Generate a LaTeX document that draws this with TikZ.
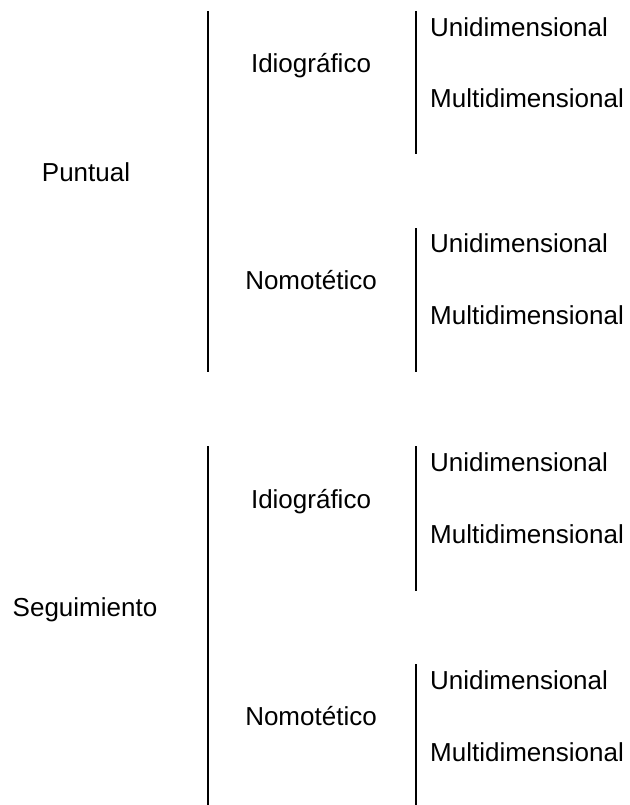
\documentclass[tikz,border=0pt]{standalone}
\usepackage{fontspec}
\setmainfont{Liberation Sans}
\usetikzlibrary{positioning}
\tikzstyle{term} = [inner sep=0pt, font=\fontsize{26}{31}\selectfont,
                    text height=19pt, text depth=0pt]
\tikzstyle{leaf} = [term, anchor=west]
\tikzstyle{bar} = [line width=2pt]

\begin{document}
\begin{tikzpicture}[x=1pt, y=-1pt]
\useasboundingbox (0,0) rectangle (629,805);
% primer bloque
\node [term] at (86,172) (puntual) {Puntual};
\node [term] at (311,63) (idio_p) {Idiográfico};
\node [term] at (311,280) (nomo_p) {Nomotético};
\node [leaf] at (430,27) (uni_ip) {Unidimensional};
\node [leaf] at (430,98) (multi_ip) {Multidimensional};
\node [leaf] at (430,243) (uni_np) {Unidimensional};
\node [leaf] at (430,315) (multi_np) {Multidimensional};
\coordinate (puntual_top) at (208,11);
\coordinate (puntual_bot) at (208,372);
\coordinate (idio_p_top) at (416,11);
\coordinate (idio_p_bot) at (416,154);
\coordinate (nomo_p_top) at (416,228);
\coordinate (nomo_p_bot) at (416,372);
\draw [bar] (puntual_top) -- (puntual_bot);
\draw [bar] (idio_p_top) -- (idio_p_bot);
\draw [bar] (nomo_p_top) -- (nomo_p_bot);
% segundo bloque
\node [term] at (85,607) (seguimiento) {Seguimiento};
\node [term] at (311,499) (idio_s) {Idiográfico};
\node [term] at (311,716) (nomo_s) {Nomotético};
\node [leaf] at (430,462) (uni_is) {Unidimensional};
\node [leaf] at (430,534) (multi_is) {Multidimensional};
\node [leaf] at (430,680) (uni_ns) {Unidimensional};
\node [leaf] at (430,752) (multi_ns) {Multidimensional};
\coordinate (seguimiento_top) at (208,446);
\coordinate (seguimiento_bot) at (208,805);
\coordinate (idio_s_top) at (416,446);
\coordinate (idio_s_bot) at (416,591);
\coordinate (nomo_s_top) at (416,664);
\coordinate (nomo_s_bot) at (416,805);
\draw [bar] (seguimiento_top) -- (seguimiento_bot);
\draw [bar] (idio_s_top) -- (idio_s_bot);
\draw [bar] (nomo_s_top) -- (nomo_s_bot);
\end{tikzpicture}
\end{document}
